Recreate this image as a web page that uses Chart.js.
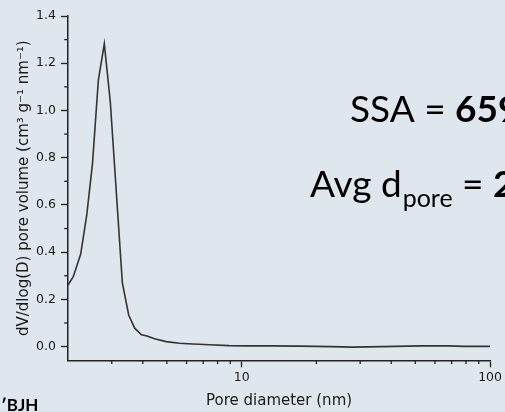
<!DOCTYPE html>
<html>
<head>
<meta charset="utf-8">
<script src="https://cdn.jsdelivr.net/npm/chart.js@4/dist/chart.umd.min.js"></script>
<style>
  html, body { margin: 0; padding: 0; background: #dfe6ee; }
  #wrap { position: relative; width: 505px; height: 412px; overflow: hidden; background: #dfe6ee; }
  canvas { display: block; }
</style>
</head>
<body>
<div id="wrap"><canvas id="c" width="505" height="412"></canvas></div>
<script>
// ---- data ----
const poreDiameters = [2.0, 2.10, 2.25, 2.38, 2.51, 2.65, 2.80, 2.96, 3.31, 3.51, 3.71, 3.95, 4.16, 4.46, 4.97, 5.62, 6.35, 6.75, 7.41, 8.9, 10.5, 13.0, 17.0, 23.1, 27.8, 36.6, 52.9, 67.7, 79.0, 100];
const poreVolumes   = [0.261, 0.296, 0.392, 0.558, 0.776, 1.129, 1.282, 1.037, 0.270, 0.134, 0.078, 0.050, 0.045, 0.033, 0.021, 0.014, 0.011, 0.010, 0.008, 0.004, 0.003, 0.003, 0.002, 0.000, -0.002, 0.000, 0.003, 0.003, 0.001, 0.001];
const xMajorTicks = [10, 100];
const xMinorTicks = [3, 4, 5, 6, 7, 8, 9, 20, 30, 40, 50, 60, 70, 80, 90];
const yMajorTicks = [0.0, 0.2, 0.4, 0.6, 0.8, 1.0, 1.2, 1.4];
const yMinorTicks = [0.1, 0.3, 0.5, 0.7, 0.9, 1.1, 1.3];
const xTitle = 'Pore diameter (nm)';
const yTitle = 'dV/dlog(D) pore volume (cm\u00B3 g\u207B\u00B9 nm\u207B\u00B9)';
const ssaLabel = 'SSA = ';
const ssaValue = '659';
const avgLabel = 'Avg d';
const avgSub = 'pore';
const avgValue = '2';
const bjhLabel = '\u2032BJH';

const AXIS = '#222222';
const TXT = '#1a1a1a';

const minorTicksPlugin = {
  id: 'minorTicks',
  afterDraw(chart) {
    const { ctx, chartArea, scales: { x, y } } = chart;
    ctx.save();
    ctx.strokeStyle = AXIS;
    ctx.lineWidth = 1.3;
    xMinorTicks.forEach(v => {
      const px = x.getPixelForValue(v);
      ctx.beginPath();
      ctx.moveTo(px, chartArea.bottom);
      ctx.lineTo(px, chartArea.bottom + 3.8);
      ctx.stroke();
    });
    yMinorTicks.forEach(v => {
      const py = y.getPixelForValue(v);
      ctx.beginPath();
      ctx.moveTo(chartArea.left, py);
      ctx.lineTo(chartArea.left - 3.8, py);
      ctx.stroke();
    });
    ctx.restore();
  }
};

const annotationPlugin = {
  id: 'annotations',
  afterDraw(chart) {
    const ctx = chart.ctx;
    ctx.save();
    ctx.fillStyle = '#000';
    ctx.textBaseline = 'alphabetic';
    ctx.textAlign = 'left';
    // SSA line
    let x0 = 350, base = 121.7;
    ctx.font = '37px Lato';
    ctx.fillText(ssaLabel, x0, base);
    x0 += ctx.measureText(ssaLabel).width;
    ctx.font = 'bold 37px Lato';
    ctx.fillText(ssaValue, x0, base);
    // Avg d_pore line
    x0 = 310; base = 196.7;
    ctx.font = '37px Lato';
    ctx.fillText(avgLabel, x0, base);
    x0 += ctx.measureText(avgLabel).width + 1;
    ctx.font = '25px Lato';
    ctx.fillText(avgSub, x0, base + 10);
    x0 += ctx.measureText(avgSub).width;
    ctx.font = '37px Lato';
    ctx.fillText(' = ', x0, base);
    x0 += ctx.measureText(' = ').width;
    ctx.font = 'bold 37px Lato';
    ctx.fillText(avgValue, x0, base);
    // BJH label (bottom-left)
    ctx.font = 'bold 17px Lato';
    ctx.fillText(bjhLabel, 1, 410.7);
    ctx.restore();
  }
};

const points = poreDiameters.map((d, i) => ({ x: d, y: poreVolumes[i] }));

new Chart(document.getElementById('c'), {
  type: 'line',
  data: {
    datasets: [{
      data: points,
      borderColor: '#333333',
      borderWidth: 1.6,
      pointRadius: 0,
      tension: 0,
      fill: false
    }]
  },
  options: {
    responsive: false,
    animation: false,
    devicePixelRatio: 1,
    layout: { padding: { top: 16, right: 13.3, bottom: 0, left: 0 } },
    plugins: { legend: { display: false }, tooltip: { enabled: false } },
    scales: {
      x: {
        type: 'logarithmic',
        min: 2,
        max: 100,
        afterBuildTicks: s => { s.ticks = xMajorTicks.map(v => ({ value: v })); },
        afterFit: s => { s.height = 51.7; },
        ticks: {
          callback: v => String(v),
          color: TXT,
          font: { family: 'DejaVu Sans', size: 12.5 },
          padding: 3,
          maxRotation: 0,
          autoSkip: false
        },
        grid: { drawOnChartArea: false, drawTicks: true, tickLength: 7, tickColor: AXIS, tickWidth: 1.3 },
        border: { display: true, color: AXIS, width: 1.5 },
        title: {
          display: true,
          text: xTitle,
          color: TXT,
          font: { family: 'DejaVu Sans', size: 15 },
          padding: { top: 0, bottom: 2 }
        }
      },
      y: {
        type: 'linear',
        min: -0.058,
        max: 1.4,
        afterBuildTicks: s => { s.ticks = yMajorTicks.map(v => ({ value: v })); },
        afterFit: s => { s.width = 68; },
        ticks: {
          callback: v => Number(v).toFixed(1),
          color: TXT,
          font: { family: 'DejaVu Sans', size: 12.5 },
          padding: 5
        },
        grid: { drawOnChartArea: false, drawTicks: true, tickLength: 7, tickColor: AXIS, tickWidth: 1.3 },
        border: { display: true, color: AXIS, width: 1.5 },
        title: {
          display: true,
          text: yTitle,
          color: TXT,
          font: { family: 'DejaVu Sans', size: 15 },
          padding: { top: 15, bottom: 0 }
        }
      }
    }
  },
  plugins: [minorTicksPlugin, annotationPlugin]
});
</script>
</body>
</html>
